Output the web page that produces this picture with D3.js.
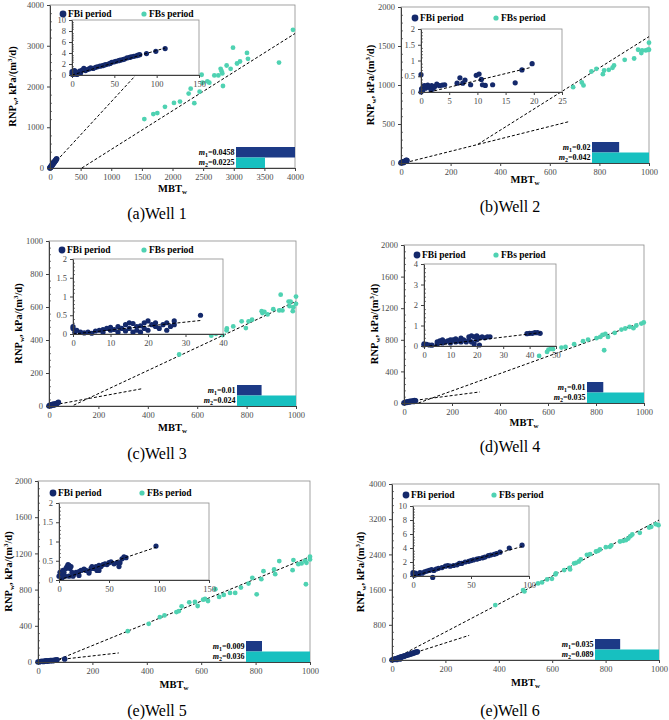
<!DOCTYPE html>
<html>
<head>
<meta charset="utf-8">
<script src="https://cdn.jsdelivr.net/npm/d3@7"></script>
<style>
body { margin: 0; background: #fff; }
svg text { font-family: "Liberation Serif", "Times New Roman", serif; }
</style>
</head>
<body>
<div id="main"></div>
<script>
// ---- data ----
var captions = ["(a)Well 1", "(b)Well 2", "(c)Well 3", "(d)Well 4", "(e)Well 5", "(e)Well 6"];

var xTicks4000 = [0, 500, 1000, 1500, 2000, 2500, 3000, 3500, 4000];
var xTicks1000 = [0, 200, 400, 600, 800, 1000];

// Well 1
var well1YTicks = [0, 1000, 2000, 3000, 4000];
var well1InsetX = [0, 50, 100, 150];
var well1InsetY = [0, 2, 4, 6, 8, 10];
var well1Slopes = [0.0458, 0.0225];
var well1Fbi = [[0,0],[3,8],[6,15],[10,20],[14,30],[18,38],[22,45],[27,55],[32,66],[38,78],[44,90],[50,102],[56,115],[62,128],[68,140],[75,155],[82,170],[90,185],[98,200],[108,225]];
var well1Fbs = [[1540,1201],[1687,1323],[1752,1347],[1877,1501],[2024,1598],[2122,1631],[2356,1590],[2264,1826],[2297,1947],[2443,1874],[2476,2288],[2492,2093],[2569,2126],[2601,2093],[2683,2272],[2748,2272],[2786,2434],[2802,2377],[2813,2321],[2884,2515],[2949,2434],[2824,2012],[2988,2953],[3053,2564],[3102,2613],[3216,2824],[3232,2678],[3739,2588],[3967,3392]];
var well1Trend = [[0,0,1500,2440],[520,0,4000,3300]];
var well1Inset = [[0,0.2],[0,0.6],[1,0.1],[2,0.3],[3,0.8],[4,0.2],[5,0.5],[6,0.1],[7,0.4],[9,0.7],[10,0.3],[12,0.9],[14,1.2],[16,0.8],[18,1.0],[20,1.1],[22,1.3],[25,1.2],[28,1.4],[30,1.5],[33,1.6],[36,1.7],[38,1.8],[40,1.9],[43,2.0],[45,2.1],[47,2.3],[50,2.4],[52,2.5],[55,2.6],[57,2.7],[60,2.8],[62,2.9],[65,3.1],[68,3.2],[70,3.3],[73,3.4],[76,3.5],[78,3.6],[80,3.7],[88,3.9],[99,4.3],[110,4.8]];
var well1InsetTrend = [[0,0,110,4.9]];

// Well 2
var well2YTicks = [0, 500, 1000, 1500, 2000];
var well2InsetX = [0, 5, 10, 15, 20, 25];
var well2InsetY = [0, 0.5, 1, 1.5, 2];
var well2Slopes = [0.02, 0.042];
var well2Fbi = [[0,0],[2,5],[4,10],[6,3],[8,15],[10,8],[12,12],[15,20],[18,25],[20,30],[22,35],[24,30]];
var well2Fbs = [[694,972],[729,1032],[736,994],[768,1173],[788,1208],[814,1139],[819,1186],[838,1195],[853,1221],[859,1250],[902,1323],[940,1340],[956,1452],[969,1409],[972,1443],[987,1443],[996,1452],[1000,1542],[1000,1452]];
var well2Trend = [[17,4,678,531],[310,240,1000,1620]];
var well2Inset = [[0,0],[0,0.55],[0.1,0.1],[0.3,0.05],[0.4,0.16],[0.6,0.2],[0.8,0.12],[1,0.19],[1.2,0.22],[1.4,0.15],[1.6,0.17],[1.8,0.05],[1.9,0.2],[2.2,0.12],[2.5,0.18],[2.8,0.25],[3.3,0.2],[3.8,0.22],[4.2,0.23],[6.4,0.28],[6.9,0.45],[7.4,0.28],[7.8,0.38],[8.8,0.23],[9.8,0.53],[10.3,0.57],[10.7,0.4],[10.9,0.23],[11.4,0.21],[12.7,0.23],[16.7,0.29],[17.9,0.7],[19.7,0.9]];
var well2InsetTrend = [[1.5,0,19.5,0.78]];

// Well 3
var well3YTicks = [0, 200, 400, 600, 800, 1000];
var well3InsetX = [0, 10, 20, 30, 40];
var well3InsetY = [0, 0.5, 1, 1.5, 2];
var well3Slopes = [0.01, 0.024];
var well3Fbi = [[0,0],[3,5],[6,2],[9,8],[12,4],[15,10],[18,6],[21,12],[24,8],[27,14],[30,12],[34,18],[38,22]];
var well3Fbs = [[527,312],[657,426],[676,438],[703,430],[719,458],[720,470],[746,482],[780,513],[797,472],[808,513],[822,523],[861,575],[864,563],[872,571],[885,555],[908,587],[932,579],[938,675],[945,579],[970,633],[978,633],[987,575],[989,599],[1000,619],[1000,663],[974,605]];
var well3Trend = [[3,2,374,104],[100,5,1000,635]];
var well3Inset = [[0,0.15],[0,0.2],[0.5,0.05],[1,0.1],[2,0.05],[3,0.03],[4,0.05],[5,0.02],[6,0.08],[7,0.1],[8,0.12],[8,0.05],[9,0.15],[10,0.1],[10,0.18],[11,0.12],[12,0.05],[12,0.2],[13,0.15],[14,0.25],[14,0.08],[15,0.3],[15,0.15],[16,0.28],[16,0.05],[17,0.2],[17,0.1],[18,0.22],[18,0.05],[19,0.3],[19,0.15],[20,0.35],[20,0.1],[21,0.25],[22,0.2],[22,0.3],[23,0.15],[24,0.25],[25,0.1],[25,0.3],[26,0.2],[27,0.35],[27,0.25],[34,0.5]];
var well3InsetTrend = [[0,0,34,0.36]];

// Well 4
var well4YTicks = [0, 400, 800, 1200, 1600, 2000];
var well4InsetX = [0, 10, 20, 30, 40, 50];
var well4InsetY = [0, 1, 2, 3, 4];
var well4Slopes = [0.01, 0.035];
var well4Fbi = [[0,0],[4,5],[8,10],[12,8],[16,15],[20,12],[24,20],[28,18],[32,22],[36,25],[40,20],[44,30],[48,28]];
var well4Fbs = [[563,596],[596,647],[602,676],[612,685],[621,681],[656,702],[673,710],[709,744],[746,782],[767,803],[802,820],[818,837],[827,862],[834,668],[839,875],[850,837],[878,888],[906,930],[922,943],[940,964],[956,947],[968,981],[989,1006],[999,1019]];
var well4Trend = [[4,17,316,140],[60,0,1000,1030]];
var well4Inset = [[0,0.1],[0,0.05],[1,0.08],[2,0.05],[3,0.04],[5,0.2],[5,0.1],[6,0.25],[7,0.15],[7,0.3],[8,0.2],[9,0.25],[10,0.3],[10,0.15],[11,0.3],[12,0.35],[12,0.2],[13,0.25],[14,0.38],[14,0.2],[15,0.3],[16,0.2],[17,0.45],[17,0.3],[18,0.5],[18,0.2],[19,0.45],[19,0.1],[20,0.5],[20,0.3],[21,0.4],[21,0.05],[22,0.45],[23,0.4],[24,0.45],[25,0.45],[39,0.6],[40,0.62],[41,0.62],[42,0.65],[43,0.65],[44,0.62]];
var well4InsetTrend = [[2,0,44,0.65]];

// Well 5
var well5YTicks = [0, 400, 800, 1200, 1600, 2000];
var well5InsetX = [0, 50, 100, 150];
var well5InsetY = [0, 0.5, 1, 1.5, 2];
var well5Slopes = [0.009, 0.036];
var well5Fbi = [[0,0],[5,3],[10,5],[15,8],[20,6],[25,10],[30,12],[35,10],[40,14],[45,15],[50,17],[55,15],[60,20],[65,22],[70,25],[98,33]];
var well5Fbs = [[330,341],[407,422],[448,496],[465,515],[509,552],[518,563],[528,615],[556,659],[577,663],[587,619],[607,689],[614,696],[625,674],[652,804],[666,719],[683,741],[706,763],[725,763],[746,822],[774,867],[788,930],[804,748],[821,915],[829,1004],[868,1022],[872,970],[887,1115],[936,1015],[939,1126],[957,1081],[969,1089],[982,1119],[985,859],[987,1096],[1000,1163],[1000,1133]];
var well5Trend = [[0,0,297,100],[60,10,1000,1163]];
var well5Inset = [[0,0.1],[1,0.2],[2,0.15],[3,0.05],[4,0.25],[5,0.2],[6,0.1],[7,0.3],[8,0.35],[9,0.4],[10,0.38],[10,0.1],[11,0.3],[12,0.35],[13,0.2],[14,0.1],[15,0.15],[17,0.2],[20,0.22],[20,0.12],[22,0.25],[25,0.28],[27,0.25],[30,0.22],[30,0.18],[32,0.3],[33,0.35],[35,0.3],[37,0.35],[38,0.25],[40,0.38],[40,0.25],[42,0.35],[44,0.4],[46,0.42],[48,0.4],[50,0.45],[52,0.47],[55,0.42],[58,0.45],[60,0.35],[61,0.45],[63,0.55],[65,0.6],[67,0.58],[97,0.88]];
var well5InsetTrend = [[0,0,97,0.85]];

// Well 6
var well6YTicks = [0, 800, 1600, 2400, 3200, 4000];
var well6InsetX = [0, 50, 100];
var well6InsetY = [0, 2, 4, 6, 8, 10];
var well6Slopes = [0.035, 0.089];
var well6Fbi = [[0,0],[5,10],[10,20],[15,30],[18,10],[20,40],[25,50],[30,25],[30,60],[35,70],[40,78],[45,88],[50,98],[55,108],[60,118],[65,128],[70,138],[75,148],[80,158],[85,168],[90,178],[95,188]];
var well6Fbs = [[387,1248],[491,1589],[496,1558],[547,1740],[562,1763],[581,1831],[599,1846],[612,1944],[614,1967],[645,2043],[665,2096],[667,2058],[682,2194],[689,2209],[700,2239],[707,2285],[730,2391],[742,2406],[764,2466],[772,2481],[779,2512],[801,2565],[816,2572],[821,2602],[854,2693],[866,2708],[876,2723],[885,2761],[893,2814],[900,2852],[928,2890],[963,3011],[971,3026],[988,3087],[998,3064]];
var well6Trend = [[0,0,289,560],[0,0,1000,3180]];
var well6Inset = [[0,0.2],[0,0.5],[1,0.1],[2,0.4],[3,0.2],[5,0.3],[6,0.5],[8,0.4],[10,0.6],[12,0.7],[14,0.8],[16,0.9],[17,-0.2],[18,0.8],[20,1.0],[22,1.1],[25,1.2],[28,1.4],[30,1.5],[32,1.4],[35,1.5],[38,1.6],[40,1.8],[42,1.8],[45,2.0],[48,2.1],[50,2.2],[52,2.3],[55,2.4],[57,2.5],[60,2.6],[62,2.7],[65,2.9],[67,3.0],[70,3.1],[72,3.2],[75,3.4],[83,4.0],[94,4.4]];
var well6InsetTrend = [[0,0,94,4.2]];

// ---- layout (pixel boxes) ----
var layouts = [
    {l:50,  r:295, t:5,   b:168, ins:{l:72,  r:199, t:20,  b:75},  legY:14,  legX1:63,  legX2:144, barW:59, yTitleX:16,  capY:219, xTitleY:192},
    {l:401, r:649, t:7,   b:163, ins:{l:421, r:562, t:29,  b:92},  legY:18,  legX1:415, legX2:496, barW:57, yTitleX:374, capY:212, xTitleY:183},
    {l:49,  r:296, t:241, b:406, ins:{l:73,  r:223, t:259, b:334}, legY:250, legX1:62,  legX2:144, barW:59, yTitleX:22,  capY:459, xTitleY:431},
    {l:404, r:644, t:245, b:403, ins:{l:424, r:556, t:264, b:346}, legY:255, legX1:417, legX2:496, barW:57, yTitleX:378, capY:452, xTitleY:426},
    {l:38,  r:310, t:481, b:662, ins:{l:59,  r:209, t:503, b:580}, legY:493, legX1:53,  legX2:142, barW:64, yTitleX:12,  capY:716, xTitleY:688},
    {l:392, r:659, t:484, b:660, ins:{l:413, r:529, t:506, b:576}, legY:495, legX1:406, legX2:494, barW:64, yTitleX:364, capY:716, xTitleY:686}
];

var ctx = {
    w: 669,
    h: 720,
    FBI: "#14296b",
    FBS: "#4fd2b2",
    BAR1: "#1c3a86",
    BAR2: "#17c0c0",
    AXIS: "#404040",
    FRAME: "#8c8c8c",
    TICKTXT: "#4a4a4a"
};

var panels = [
    {fbi:well1Fbi, fbs:well1Fbs, trend:well1Trend, inset:well1Inset, insetTrend:well1InsetTrend, slopes:well1Slopes, xTicks:xTicks4000, yTicks:well1YTicks, ixTicks:well1InsetX, iyTicks:well1InsetY},
    {fbi:well2Fbi, fbs:well2Fbs, trend:well2Trend, inset:well2Inset, insetTrend:well2InsetTrend, slopes:well2Slopes, xTicks:xTicks1000, yTicks:well2YTicks, ixTicks:well2InsetX, iyTicks:well2InsetY},
    {fbi:well3Fbi, fbs:well3Fbs, trend:well3Trend, inset:well3Inset, insetTrend:well3InsetTrend, slopes:well3Slopes, xTicks:xTicks1000, yTicks:well3YTicks, ixTicks:well3InsetX, iyTicks:well3InsetY},
    {fbi:well4Fbi, fbs:well4Fbs, trend:well4Trend, inset:well4Inset, insetTrend:well4InsetTrend, slopes:well4Slopes, xTicks:xTicks1000, yTicks:well4YTicks, ixTicks:well4InsetX, iyTicks:well4InsetY},
    {fbi:well5Fbi, fbs:well5Fbs, trend:well5Trend, inset:well5Inset, insetTrend:well5InsetTrend, slopes:well5Slopes, xTicks:xTicks1000, yTicks:well5YTicks, ixTicks:well5InsetX, iyTicks:well5InsetY},
    {fbi:well6Fbi, fbs:well6Fbs, trend:well6Trend, inset:well6Inset, insetTrend:well6InsetTrend, slopes:well6Slopes, xTicks:xTicks1000, yTicks:well6YTicks, ixTicks:well6InsetX, iyTicks:well6InsetY}
];

// minor tick positions between majors
var minorTicks = function(ticks, n){
    var res = [];
    for (var i = 0; i < ticks.length - 1; i++){
        var step = (ticks[i+1] - ticks[i]) / n;
        for (var k = 1; k < n; k++) res.push(ticks[i] + k*step);
    }
    return res;
};

var plain = function(d){ return String(d); };

var styleAxis = function(sel){
    sel.attr("font-family", "Liberation Serif, serif");
    sel.select(".domain").attr("stroke", ctx.AXIS).attr("stroke-width", 1);
    sel.selectAll(".tick line").attr("stroke", ctx.AXIS);
    sel.selectAll("text").attr("font-size", 8.5).attr("fill", ctx.TICKTXT);
};

// draws a framed plot, returns scales
var drawFrame = function(g, box, xTicks, yTicks){
    var x = d3.scaleLinear().domain([0, xTicks[xTicks.length-1]]).range([box.l, box.r]);
    var y = d3.scaleLinear().domain([0, yTicks[yTicks.length-1]]).range([box.b, box.t]);
    g.append("rect")
        .attr("x", box.l).attr("y", box.t)
        .attr("width", box.r - box.l).attr("height", box.b - box.t)
        .attr("fill", "#fff").attr("stroke", ctx.FRAME).attr("stroke-width", 0.8);
    return {x: x, y: y};
};

var drawAxes = function(g, s, box, xTicks, yTicks){
    // minor y ticks, inside
    g.append("g").attr("transform", "translate(" + box.l + ",0)")
        .call(d3.axisLeft(s.y).tickValues(minorTicks(yTicks, 5)).tickSize(-2).tickFormat(""))
        .call(function(a){ a.select(".domain").remove(); a.selectAll("line").attr("stroke", ctx.AXIS).attr("stroke-width", 0.7); });
    g.append("g").attr("transform", "translate(" + box.l + ",0)")
        .call(d3.axisLeft(s.y).tickValues(yTicks).tickFormat(plain).tickSizeInner(3).tickSizeOuter(0).tickPadding(3))
        .call(styleAxis);
    g.append("g").attr("transform", "translate(0," + box.b + ")")
        .call(d3.axisBottom(s.x).tickValues(xTicks).tickFormat(plain).tickSizeInner(3).tickSizeOuter(0).tickPadding(3))
        .call(styleAxis);
};

var drawLines = function(g, s, lines){
    g.selectAll("line.trend").data(lines).enter().append("line")
        .attr("class", "trend")
        .attr("x1", d => s.x(d[0])).attr("y1", d => s.y(d[1]))
        .attr("x2", d => s.x(d[2])).attr("y2", d => s.y(d[3]))
        .attr("stroke", "#000").attr("stroke-width", 1)
        .attr("stroke-dasharray", "3,2");
};

var drawDots = function(g, s, pts, color, r){
    g.append("g").selectAll("circle").data(pts).enter().append("circle")
        .attr("cx", d => s.x(d[0])).attr("cy", d => s.y(d[1]))
        .attr("r", r).attr("fill", color);
};

var slopeLabel = function(g, x, y, idx, val){
    var t = g.append("text").attr("x", x).attr("y", y)
        .attr("text-anchor", "end").attr("font-size", 8).attr("font-weight", "bold");
    t.append("tspan").attr("font-style", "italic").text("m");
    t.append("tspan").attr("font-size", 6).attr("dy", 2).text(idx);
    t.append("tspan").attr("dy", -2).text("=" + val);
};

var createPanel = function(svgEl, p, lay, i){
    var g = svgEl.append("g");
    var box = {l: lay.l, r: lay.r, t: lay.t, b: lay.b};
    var s = drawFrame(g, box, p.xTicks, p.yTicks);

    var clipId = "clip" + i;
    svgEl.append("clipPath").attr("id", clipId).append("rect")
        .attr("x", box.l - 3).attr("y", box.t)
        .attr("width", box.r - box.l + 6).attr("height", box.b - box.t + 3);
    var plot = g.append("g").attr("clip-path", "url(#" + clipId + ")");
    drawLines(plot, s, p.trend);
    drawDots(plot, s, p.fbs, ctx.FBS, 2.4);
    drawDots(plot, s, p.fbi, ctx.FBI, 2.8);

    // slope bars
    var bw = d3.scaleLinear().domain([0, d3.max(p.slopes)]).range([0, lay.barW]);
    var bx = box.r - lay.barW;
    var rowH = 10.5;
    var colors = [ctx.BAR1, ctx.BAR2];
    g.selectAll("rect.bar").data(p.slopes).enter().append("rect")
        .attr("class", "bar")
        .attr("x", bx)
        .attr("y", (d, k) => box.b - 2*rowH + k*rowH)
        .attr("width", d => bw(d))
        .attr("height", rowH)
        .attr("fill", (d, k) => colors[k]);
    p.slopes.forEach(function(v, k){
        slopeLabel(g, bx - 1.5, box.b - 2*rowH + k*rowH + 7.5, String(k+1), v);
    });

    // legend
    g.append("circle").attr("cx", lay.legX1).attr("cy", lay.legY).attr("r", 3.4).attr("fill", ctx.FBI);
    g.append("text").attr("x", lay.legX1 + 5).attr("y", lay.legY + 3.3)
        .attr("font-size", 9.5).attr("font-weight", "bold").text("FBi period");
    g.append("circle").attr("cx", lay.legX2).attr("cy", lay.legY).attr("r", 2.6).attr("fill", ctx.FBS);
    g.append("text").attr("x", lay.legX2 + 5).attr("y", lay.legY + 3.3)
        .attr("font-size", 9.5).attr("font-weight", "bold").text("FBs period");

    // inset
    var ig = g.append("g");
    var si = drawFrame(ig, lay.ins, p.ixTicks, p.iyTicks);
    drawDots(ig, si, p.inset, ctx.FBI, 2.6);
    drawLines(ig, si, p.insetTrend);
    drawAxes(ig, si, lay.ins, p.ixTicks, p.iyTicks);

    drawAxes(g, s, box, p.xTicks, p.yTicks);

    // axis titles
    var cx = (box.l + box.r) / 2, cy = (box.t + box.b) / 2;
    var xt = g.append("text").attr("x", cx).attr("y", lay.xTitleY)
        .attr("text-anchor", "middle").attr("font-size", 10.5).attr("font-weight", "bold");
    xt.append("tspan").text("MBT");
    xt.append("tspan").attr("font-size", 7).attr("dy", 2).text("w");

    var yt = g.append("text")
        .attr("transform", "translate(" + lay.yTitleX + "," + cy + ") rotate(-90)")
        .attr("text-anchor", "middle").attr("font-size", 10.5).attr("font-weight", "bold");
    yt.append("tspan").text("RNP");
    yt.append("tspan").attr("font-size", 7).attr("dy", 2).text("w");
    yt.append("tspan").attr("dy", -2).text(", kPa/(m");
    yt.append("tspan").attr("font-size", 7).attr("dy", -4).text("3");
    yt.append("tspan").attr("dy", 4).text("/d)");

    // caption
    g.append("text").attr("x", i % 2 == 0 ? 157 : 510).attr("y", lay.capY)
        .attr("text-anchor", "middle").attr("font-size", 16).text(captions[i]);
};

var createViz = function(){
    var svgEl = d3.select("#main").append("svg")
        .attr("width", ctx.w).attr("height", ctx.h);
    svgEl.append("rect").attr("width", ctx.w).attr("height", ctx.h).attr("fill", "#fff");
    panels.forEach(function(p, i){
        createPanel(svgEl, p, layouts[i], i);
    });
};

createViz();
</script>
</body>
</html>
